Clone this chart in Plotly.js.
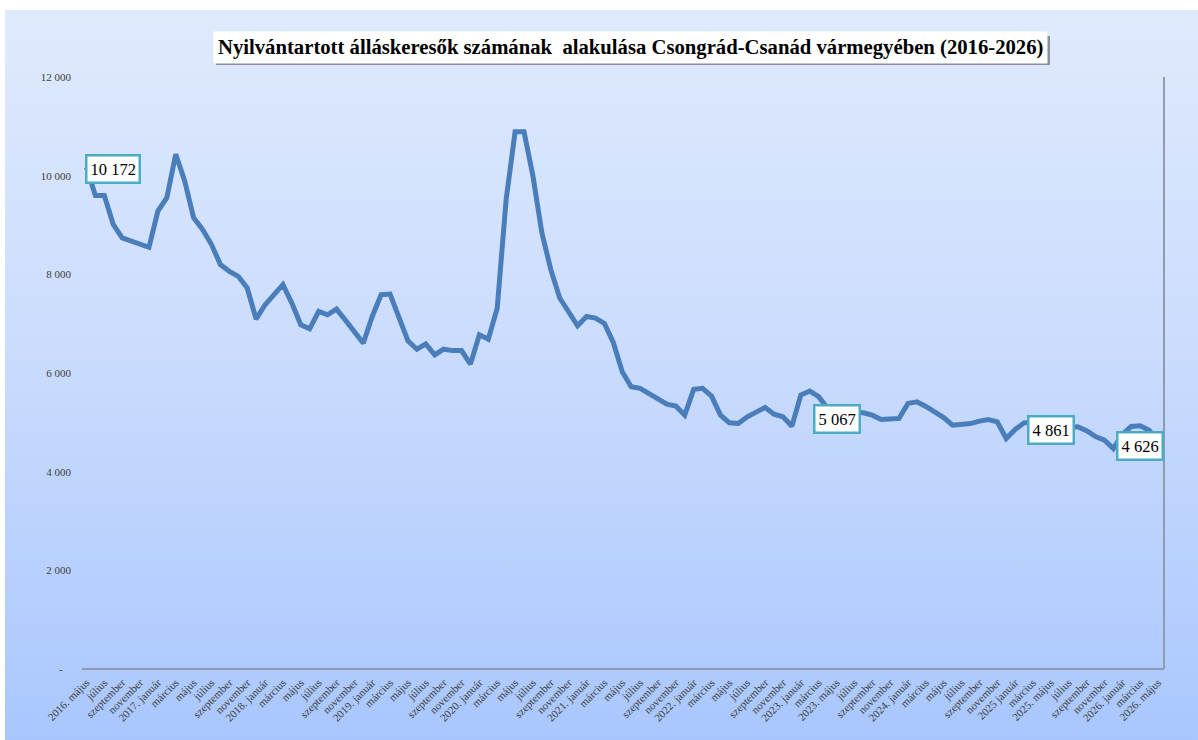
<!DOCTYPE html>
<html>
<head>
<meta charset="utf-8">
<script src="https://cdn.plot.ly/plotly-3.0.1.min.js"></script>
<style>
  html, body { margin: 0; padding: 0; background: #ffffff; width: 1198px; height: 740px; overflow: hidden; }
  #bg { position: absolute; left: 5px; top: 10px; width: 1193px; height: 730px;
        background: linear-gradient(to bottom, #e0eafd 0%, #c9dbfd 50%, #a9c7fe 100%); }
  #chart { position: absolute; left: 0; top: 0; width: 1198px; height: 740px; }
</style>
</head>
<body>
<div id="bg"></div>
<div id="chart"></div>
<script>
// Monthly values, 2016. május ... 2026. május
const values = [
  10172, 9600, 9600, 9011, 8740, 8680, 8620, 8549, 9281, 9554,
  10434, 9892, 9147, 8909, 8604, 8197, 8061, 7960, 7723, 7092,
  7383, 7570, 7790, 7418, 6977, 6895, 7248, 7180, 7296, 7072,
  6834, 6604, 7146, 7587, 7600, 7146, 6651, 6482, 6590, 6366,
  6482, 6454, 6454, 6180, 6773, 6686, 7316, 9519, 10888, 10888,
  9993, 8842, 8095, 7520, 7230, 6956, 7145, 7113, 7005, 6620,
  6027, 5722, 5689, 5587, 5465, 5370, 5329, 5146, 5669, 5689,
  5532, 5146, 4990, 4977, 5112, 5214, 5302, 5166, 5112, 4922,
  5553, 5634, 5519, 5283, 5067, 5230, 5220, 5193, 5146, 5058,
  5068, 5080, 5384, 5417, 5321, 5207, 5095, 4943, 4955, 4975,
  5024, 5058, 5010, 4672, 4855, 4990, 5000, 4930, 4861, 4880,
  4900, 4910, 4829, 4711, 4638, 4469, 4754, 4916, 4932, 4841,
  4626
];

// Tick labels, every second month
const tickLabels = [
  "2016. május", "július", "szeptember", "november",
  "2017. január", "március", "május", "július", "szeptember", "november",
  "2018. január", "március", "május", "július", "szeptember", "november",
  "2019. január", "március", "május", "július", "szeptember", "november",
  "2020. január", "március", "május", "július", "szeptember", "november",
  "2021. január", "március", "május", "július", "szeptember", "november",
  "2022. január", "március", "május", "július", "szeptember", "november",
  "2023. január", "március", "2023. május", "július", "szeptember", "november",
  "2024. január", "március", "május", "július", "szeptember", "november",
  "2025 január", "március", "2025. május", "július", "szeptember", "november",
  "2026. január", "március", "2026. május"
];

const yTickVals = [0, 2000, 4000, 6000, 8000, 10000, 12000];
const yTickText = ["-\u00a0\u00a0\u00a0", "2 000", "4 000", "6 000", "8 000", "10 000", "12 000"];

// Highlighted data points (index into values) and label offsets
const labelIdx = [0, 84, 108, 120];
const labelShift = [[27, -2], [0, 0], [0, -1], [-18, -5]];

const title = "Nyilvántartott álláskeresők számának \u00a0alakulása Csongrád-Csanád vármegyében (2016-2026)";

const xs = values.map((_, i) => i);
const tickVals = tickLabels.map((_, k) => 2 * k);

function fmt(v) {
  return String(v).replace(/\B(?=(\d{3})+(?!\d))/g, " ");
}

const serif = "Liberation Serif, Times New Roman, serif";

const trace = {
  type: "scatter",
  mode: "lines",
  x: xs,
  y: values,
  line: { color: "#4a7ebb", width: 5, shape: "linear" },
  hoverinfo: "skip",
  showlegend: false
};

const annotations = [];
labelIdx.forEach((idx, k) => {
  annotations.push({
    x: idx, y: values[idx], xref: "x", yref: "y",
    text: fmt(values[idx]),
    showarrow: false,
    xanchor: "center", yanchor: "middle",
    xshift: labelShift[k][0], yshift: labelShift[k][1],
    bgcolor: "#ffffff",
    bordercolor: "#4bacc6",
    borderwidth: 2.5,
    borderpad: 3,
    font: { family: serif, size: 16.5, color: "#000000" }
  });
});

// title
annotations.push({
  xref: "paper", yref: "paper", x: 0.5, y: 1,
  xanchor: "center", yanchor: "middle",
  xshift: 7, yshift: 30,
  text: "<b>" + title + "</b>",
  showarrow: false,
  bgcolor: "#ffffff",
  borderpad: 4,
  font: { family: serif, size: 20.7, color: "#000000" }
});

const layout = {
  width: 1198, height: 740,
  margin: { l: 82, r: 34, t: 77, b: 71 },
  paper_bgcolor: "rgba(0,0,0,0)",
  plot_bgcolor: "rgba(0,0,0,0)",
  xaxis: {
    range: [-0.5, 120.67],
    tickmode: "array",
    tickvals: tickVals,
    ticktext: tickLabels,
    tickangle: -45,
    showgrid: false, zeroline: false, showline: false,
    ticks: "",
    ticklabelstandoff: 4,
    tickfont: { family: serif, size: 11, color: "#404040" }
  },
  yaxis: {
    range: [0, 12000],
    tickmode: "array",
    tickvals: yTickVals,
    ticktext: yTickText,
    showgrid: false, zeroline: false, showline: false,
    ticks: "",
    ticklabelstandoff: 10,
    tickfont: { family: serif, size: 11, color: "#404040" }
  },
  shapes: [
    // title box shadow
    { type: "rect", xref: "paper", yref: "paper", layer: "above",
      x0: 0.1238, x1: 0.8946, y0: 1.0203, y1: 1.0693,
      fillcolor: "rgba(110,110,120,0.75)", line: { width: 0 } },
    { type: "line", xref: "paper", yref: "paper", x0: 0, x1: 1, y0: 0, y1: 0,
      line: { color: "#8e9bb0", width: 2 } },
    { type: "line", xref: "paper", yref: "paper", x0: 1, x1: 1, y0: 0, y1: 1,
      line: { color: "#8e9bb0", width: 2 } }
  ],
  annotations: annotations
};

Plotly.newPlot("chart", [trace], layout, { displayModeBar: false, staticPlot: true });
</script>
</body>
</html>
